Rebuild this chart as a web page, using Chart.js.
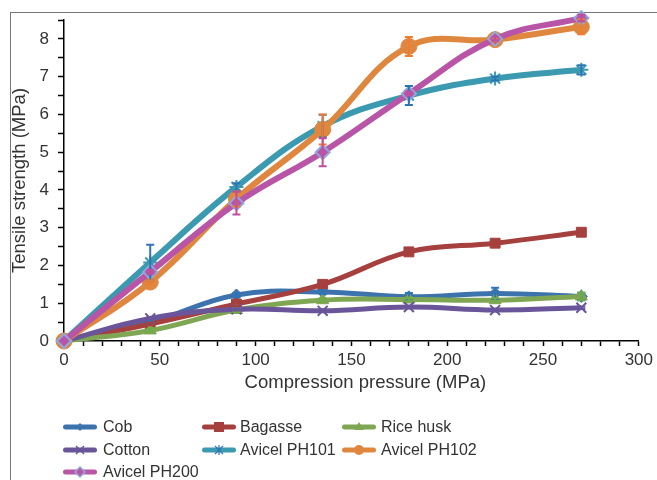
<!DOCTYPE html>
<html>
<head>
<meta charset="utf-8">
<script src="https://cdn.jsdelivr.net/npm/chart.js@4.4.0/dist/chart.umd.min.js"></script>
<style>
    body { margin: 0; background: #fff; font-family: "Liberation Sans", Arial, sans-serif; }
    #wrap { position: relative; width: 657px; height: 480px; overflow: hidden; }
    #frame { position: absolute; left: 10px; top: 12px; width: 800px; height: 600px; border-left: 1px solid #777; border-top: 1.5px solid #777; }
    #chartBox { position: absolute; left: 0; top: 0; width: 657px; height: 400px; }
    #legend { position: absolute; left: 0; top: 0; width: 657px; height: 480px; }
    .swatch { position: absolute; }
    .label { position: absolute; font-size: 16px; line-height: 20px; color: #333; white-space: nowrap; }
</style>
</head>
<body>
<div id="wrap">
    <div id="frame"></div>
    <div id="chartBox"><canvas id="lineChart"></canvas></div>
    <div id="legend"></div>
</div>
<script>
// data
const pressure = [0, 45, 90, 135, 180, 225, 270];

const seriesNames = ['Cob', 'Bagasse', 'Rice husk', 'Cotton', 'Avicel PH101', 'Avicel PH102', 'Avicel PH200'];

const cob = [0, 0.5, 1.22, 1.3, 1.17, 1.26, 1.18];
const bagasse = [0, 0.45, 0.98, 1.5, 2.36, 2.59, 2.88];
const riceHusk = [0, 0.28, 0.82, 1.08, 1.1, 1.08, 1.18];
const cotton = [0, 0.6, 0.84, 0.8, 0.9, 0.82, 0.88];
const ph101 = [0, 2.08, 4.08, 5.69, 6.5, 6.95, 7.18];
const ph102 = [0, 1.56, 3.76, 5.6, 7.8, 7.98, 8.32];
const ph200 = [0, 1.83, 3.65, 5.0, 6.55, 8.0, 8.55];

// standard deviations
const cobErr = [0, 0.05, 0.05, 0.05, 0.1, 0.15, 0.1];
const bagasseErr = [0, 0.03, 0.05, 0.05, 0.05, 0.05, 0.05];
const riceHuskErr = [0, 0.03, 0.05, 0.05, 0.05, 0.05, 0.1];
const cottonErr = [0, 0.03, 0.03, 0.03, 0.03, 0.03, 0.03];
const ph101Err = [0, 0.47, 0.1, 0.3, 0.25, 0.05, 0.12];
const ph102Err = [0, 0.05, 0.2, 0.4, 0.25, 0.05, 0.2];
const ph200Err = [0, 0.05, 0.3, 0.37, 0.05, 0.05, 0.08];

const seriesValues = [cob, bagasse, riceHusk, cotton, ph101, ph102, ph200];
const seriesErrors = [cobErr, bagasseErr, riceHuskErr, cottonErr, ph101Err, ph102Err, ph200Err];

const lineColors = ['#3D73AD', '#A6403E', '#7FA653', '#6A559A', '#3C9AB0', '#E0873F', '#B955A7'];
const errColors = ['#2E75B6', '#A6403E', '#70AD47', '#6A559A', '#2E75B6', '#ED7D31', '#C0509F'];
const markers = ['rectRot', 'rect', 'triangle', 'crossRot', 'star', 'circle', 'rectRot'];
const markerSizes = [6, 7, 7, 7, 7, 8, 7];
const lineWidths = [5, 5, 5, 5, 6, 6, 6];

const datasets = seriesNames.map((name, i) => {
    const useBorder = markers[i] === 'crossRot' || markers[i] === 'star';
    return {
        label: name,
        data: pressure.map((p, j) => ({ x: p, y: seriesValues[i][j] })),
        borderColor: lineColors[i],
        backgroundColor: lineColors[i],
        borderWidth: lineWidths[i],
        tension: 0.4,
        pointStyle: markers[i],
        pointRadius: markerSizes[i],
        pointBackgroundColor: lineColors[i],
        pointBorderColor: i === 6 ? '#8EA9DB' : lineColors[i],
        pointBorderWidth: useBorder ? 2 : (i === 6 ? 2 : 1),
        fill: false,
        clip: false,
        order: seriesNames.length - i
    };
});

const textColor = '#333';
const xTitle = 'Compression pressure (MPa)';

// error bars drawn through the chart scales
const errorBarPlugin = {
    id: 'errorBars',
    afterDatasetsDraw(chart) {
        const ctx = chart.ctx;
        const xs = chart.scales.x;
        const ys = chart.scales.y;
        ctx.save();
        seriesValues.forEach((vals, i) => {
            ctx.strokeStyle = errColors[i];
            ctx.lineWidth = 2;
            vals.forEach((v, j) => {
                const e = seriesErrors[i][j];
                if (!e) return;
                const px = xs.getPixelForValue(pressure[j]);
                const top = ys.getPixelForValue(v + e);
                const bot = ys.getPixelForValue(v - e);
                ctx.beginPath();
                ctx.moveTo(px, top);
                ctx.lineTo(px, bot);
                ctx.moveTo(px - 4, top);
                ctx.lineTo(px + 4, top);
                ctx.moveTo(px - 4, bot);
                ctx.lineTo(px + 4, bot);
                ctx.stroke();
            });
        });
        ctx.restore();
    }
};

// x title sits a bit right of the plot centre, as in the original
const xTitlePlugin = {
    id: 'xTitle',
    afterDraw(chart) {
        const ctx = chart.ctx;
        const xs = chart.scales.x;
        ctx.save();
        ctx.font = '18.5px "Liberation Sans"';
        ctx.fillStyle = textColor;
        ctx.textAlign = 'center';
        ctx.textBaseline = 'middle';
        ctx.fillText(xTitle, (xs.left + xs.right) / 2 + 14, 383);
        ctx.restore();
    }
};

const chartOptions = {
    responsive: true,
    maintainAspectRatio: false,
    animation: false,
    layout: { padding: { top: 20, right: 18, left: 0, bottom: 0 } },
    plugins: {
        legend: { display: false },
        tooltip: { enabled: false }
    },
    scales: {
        x: {
            type: 'linear',
            min: 0,
            max: 300,
            border: { color: '#000', width: 1.5 },
            grid: { drawOnChartArea: false, tickLength: 5, tickColor: '#000', tickWidth: 1.5 },
            ticks: {
                stepSize: 10,
                autoSkip: false,
                maxRotation: 0,
                color: textColor,
                font: { family: 'Liberation Sans', size: 17 },
                padding: 4,
                callback: (v) => v % 50 === 0 ? v : ''
            },
            afterFit: (scale) => { scale.height = 59; }
        },
        y: {
            type: 'linear',
            min: 0,
            max: 8.5,
            border: { color: '#000', width: 1.5 },
            grid: {
                drawOnChartArea: false,
                tickLength: 6,
                tickColor: '#000',
                tickWidth: 1.5
            },
            ticks: {
                stepSize: 0.5,
                autoSkip: false,
                color: textColor,
                font: { family: 'Liberation Sans', size: 17 },
                padding: 9,
                callback: (v) => Number.isInteger(v) && v <= 8 ? v : ''
            },
            title: {
                display: true,
                text: 'Tensile strength (MPa)',
                color: textColor,
                font: { family: 'Liberation Sans', size: 18.5 },
                padding: { top: 9, bottom: 0 }
            },
            afterFit: (scale) => { scale.width = 64; }
        }
    }
};

const lineChart = new Chart(document.getElementById('lineChart'), {
    type: 'line',
    data: { datasets: datasets },
    options: chartOptions,
    plugins: [errorBarPlugin, xTitlePlugin]
});

// legend (3 columns, Excel style)
const legendLineX = [63, 202, 342];
const legendTextX = [103, 240, 381];
const legendRows = [427, 450, 472];

const markerSvg = (i) => {
    const c = lineColors[i];
    switch (markers[i]) {
        case 'rectRot':
            return i === 6
                ? `<polygon points="17,2 22,7 17,12 12,7" fill="${c}" stroke="#8EA9DB" stroke-width="1.5"/>`
                : `<polygon points="17,3 21,7 17,11 13,7" fill="${c}"/>`;
        case 'rect':
            return `<rect x="12" y="2" width="10" height="10" fill="${c}"/>`;
        case 'triangle':
            return `<polygon points="17,2 22,10 12,10" fill="${c}"/>`;
        case 'crossRot':
            return `<path d="M13,3 L21,11 M21,3 L13,11" stroke="${c}" stroke-width="1.5"/>`;
        case 'star':
            return `<path d="M13,3 L21,11 M21,3 L13,11 M17,2 L17,12" stroke="#2E75B6" stroke-width="1.2"/>`;
        case 'circle':
            return `<circle cx="17" cy="7" r="5" fill="${c}"/>`;
    }
    return '';
};

const legendEl = document.getElementById('legend');
seriesNames.forEach((name, i) => {
    const col = i % 3;
    const row = Math.floor(i / 3);
    const sw = document.createElement('div');
    sw.className = 'swatch';
    sw.style.left = legendLineX[col] + 'px';
    sw.style.top = (legendRows[row] - 7) + 'px';
    sw.innerHTML = `<svg width="34" height="14"><line x1="2.5" y1="7" x2="31.5" y2="7" stroke="${lineColors[i]}" stroke-width="5" stroke-linecap="round"/>${markerSvg(i)}</svg>`;
    legendEl.appendChild(sw);

    const lab = document.createElement('div');
    lab.className = 'label';
    lab.style.left = legendTextX[col] + 'px';
    lab.style.top = (legendRows[row] - 10) + 'px';
    lab.textContent = name;
    legendEl.appendChild(lab);
});
</script>
</body>
</html>
